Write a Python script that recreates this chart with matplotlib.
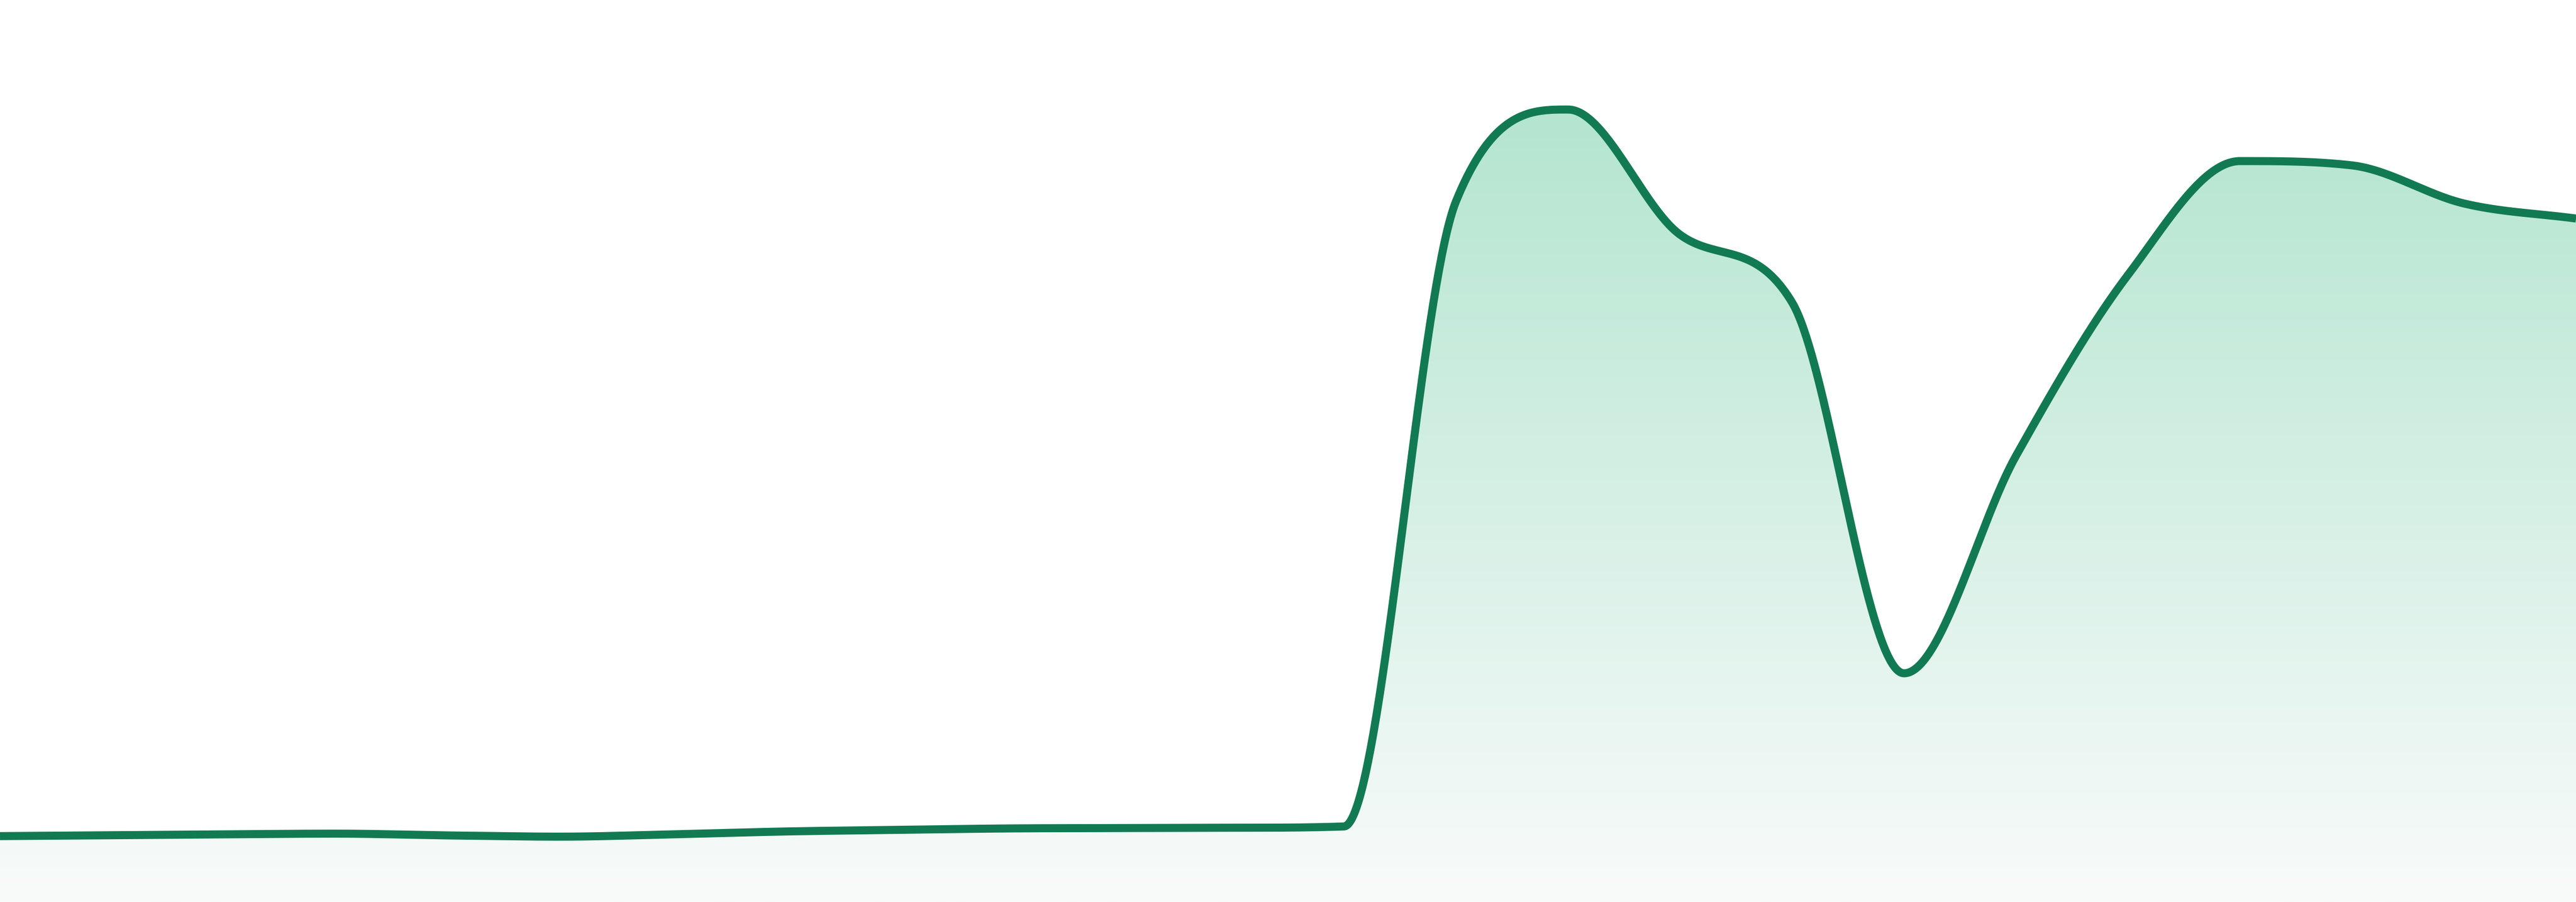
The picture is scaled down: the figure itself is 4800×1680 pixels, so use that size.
import numpy as np
import matplotlib
matplotlib.use("Agg")
import matplotlib.pyplot as plt
from matplotlib.patches import Polygon

# ---- data (24 evenly spaced samples) ----
x_idx = list(range(24))
values = [12.27, 12.43, 12.60, 12.73, 12.40, 12.17, 12.60, 13.13,
          13.43, 13.70, 13.77, 13.83, 14.07, 130.5, 147.6, 124.3,
          111.7, 42.6, 83.1, 116.8, 138.0, 137.2, 130.1, 127.3]
y_min, y_max = 0.0, 168.0

line_color = "#127a52"
grad_top = "#aae2ca"
grad_bottom = "#f9fbfb"


def monotone_tangents(x, y):
    """Fritsch-Carlson tangents (as used by Chart.js 'monotone')."""
    x = np.asarray(x, float)
    y = np.asarray(y, float)
    n = len(x)
    delta = np.diff(y) / np.diff(x)
    m = np.zeros(n)
    for i in range(n):
        if i == 0:
            m[i] = delta[0]
        elif i == n - 1:
            m[i] = delta[-1]
        elif np.sign(delta[i - 1]) != np.sign(delta[i]):
            m[i] = 0.0
        else:
            m[i] = (delta[i - 1] + delta[i]) / 2.0
    for i in range(n - 1):
        if abs(delta[i]) < 1e-12:
            m[i] = m[i + 1] = 0.0
            continue
        a = m[i] / delta[i]
        b = m[i + 1] / delta[i]
        s = a * a + b * b
        if s <= 9:
            continue
        tau = 3.0 / np.sqrt(s)
        m[i] = a * tau * delta[i]
        m[i + 1] = b * tau * delta[i]
    return m


def monotone_curve(x, y, samples=80):
    x = np.asarray(x, float)
    y = np.asarray(y, float)
    m = monotone_tangents(x, y)
    xs, ys = [], []
    t = np.linspace(0, 1, samples)
    h00 = 2 * t**3 - 3 * t**2 + 1
    h10 = t**3 - 2 * t**2 + t
    h01 = -2 * t**3 + 3 * t**2
    h11 = t**3 - t**2
    for i in range(len(x) - 1):
        h = x[i + 1] - x[i]
        seg_y = h00 * y[i] + h10 * h * m[i] + h01 * y[i + 1] + h11 * h * m[i + 1]
        seg_x = x[i] + t * h
        if i > 0:
            seg_x, seg_y = seg_x[1:], seg_y[1:]
        xs.append(seg_x)
        ys.append(seg_y)
    return np.concatenate(xs), np.concatenate(ys)


cx, cy = monotone_curve(x_idx, values)

fig = plt.figure(figsize=(48, 16.8), dpi=100)
ax = fig.add_axes([0, 0, 1, 1])
ax.set_xlim(x_idx[0], x_idx[-1])
ax.set_ylim(y_min, y_max)
ax.axis("off")

# gradient fill under the curve
top_rgb = np.array(matplotlib.colors.to_rgb(grad_top))
bot_rgb = np.array(matplotlib.colors.to_rgb(grad_bottom))
frac = np.linspace(0, 1, 512)[:, None]
grad = (top_rgb[None, :] * (1 - frac) + bot_rgb[None, :] * frac)[:, None, :]
img = ax.imshow(grad, extent=[x_idx[0], x_idx[-1], y_min, y_max],
                origin="upper", aspect="auto", zorder=1, interpolation="bilinear")
poly_xy = np.column_stack([np.concatenate([cx, [cx[-1], cx[0]]]),
                           np.concatenate([cy, [y_min, y_min]])])
poly = Polygon(poly_xy, closed=True, facecolor="none", edgecolor="none",
               transform=ax.transData)
ax.add_patch(poly)
img.set_clip_path(poly)

ax.plot(cx, cy, color=line_color, linewidth=10.8, solid_capstyle="butt",
        solid_joinstyle="round", zorder=3)

fig.savefig("out.png", dpi=100, facecolor="white")
